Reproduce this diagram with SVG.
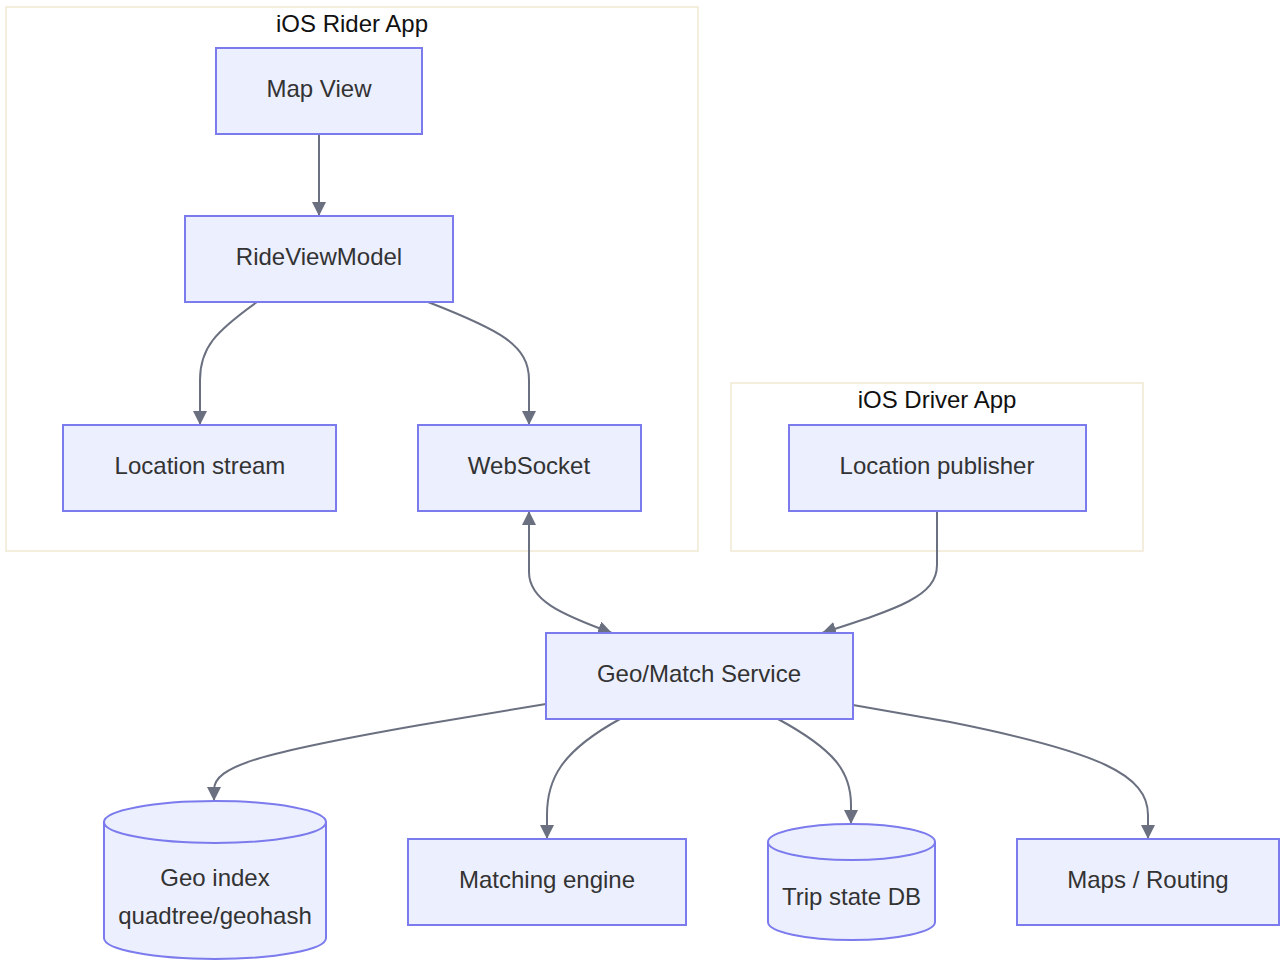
<svg xmlns="http://www.w3.org/2000/svg" width="1280" height="960" viewBox="0 0 1280 960">
<style>
.cluster{fill:#ffffff;stroke:#efe9d2;stroke-width:1.5}
.node{fill:#ECEFFE;stroke:#7B7BEE;stroke-width:2}
.lbl{font-family:"Liberation Sans",Arial,sans-serif;font-size:24px;fill:#333;text-anchor:middle;dominant-baseline:central}
.title{font-family:"Liberation Sans",Arial,sans-serif;font-size:24px;fill:#111;text-anchor:middle;dominant-baseline:central}
.edge{fill:none;stroke:#6b7080;stroke-width:2}
</style>
<defs>
<marker id="arr" viewBox="0 0 10 10" refX="10" refY="5" markerWidth="14" markerHeight="14" markerUnits="userSpaceOnUse" orient="auto-start-reverse">
<path d="M0,0 L10,5 L0,10 z" fill="#6b7080"/>
</marker>
</defs>
<rect width="1280" height="960" fill="#ffffff"/>
<g id="cluster-rider">
<rect class="cluster" x="6" y="7" width="692" height="544"/>
<text class="title" x="352" y="23">iOS Rider App</text>
</g>
<g id="cluster-driver">
<rect class="cluster" x="731" y="383" width="412" height="168"/>
<text class="title" x="937" y="399">iOS Driver App</text>
</g>
<g id="edges">
<path class="edge" d="M319,134 L319,216" marker-end="url(#arr)"/>
<path class="edge" d="M257,302 C215,332 200,348 200,380 L200,425" marker-end="url(#arr)"/>
<path class="edge" d="M428,302 C500,330 529,345 529,380 L529,425" marker-end="url(#arr)"/>
<path class="edge" d="M529,511 L529,572 C529,600 560,614 612,633" marker-start="url(#arr)" marker-end="url(#arr)"/>
<path class="edge" d="M937,511 L937,565 C937,596 900,608 822,633" marker-end="url(#arr)"/>
<path class="edge" d="M546,704 L420,725 C260,753 214,766 214,790 L214,801" marker-end="url(#arr)"/>
<path class="edge" d="M620,719 C560,752 547,780 547,815 L547,839" marker-end="url(#arr)"/>
<path class="edge" d="M778,719 C835,750 851,772 851,805 L851,824" marker-end="url(#arr)"/>
<path class="edge" d="M853,705 L950,722 C1100,752 1148,775 1148,815 L1148,839" marker-end="url(#arr)"/>
</g>
<g id="node-mapview">
<rect class="node" x="216" y="48" width="206" height="86"/>
<text class="lbl" x="319" y="88">Map View</text>
</g>
<g id="node-rideviewmodel">
<rect class="node" x="185" y="216" width="268" height="86"/>
<text class="lbl" x="319" y="256">RideViewModel</text>
</g>
<g id="node-locationstream">
<rect class="node" x="63" y="425" width="273" height="86"/>
<text class="lbl" x="200" y="465">Location stream</text>
</g>
<g id="node-websocket">
<rect class="node" x="418" y="425" width="223" height="86"/>
<text class="lbl" x="529" y="465">WebSocket</text>
</g>
<g id="node-locationpublisher">
<rect class="node" x="789" y="425" width="297" height="86"/>
<text class="lbl" x="937" y="465">Location publisher</text>
</g>
<g id="node-geomatch">
<rect class="node" x="546" y="633" width="307" height="86"/>
<text class="lbl" x="699" y="673">Geo/Match Service</text>
</g>
<g id="node-geoindex">
<path class="node" d="M104,822 A111,21 0 0 1 326,822 L326,938 A111,21 0 0 1 104,938 Z"/>
<path class="node" fill="none" d="M104,822 A111,21 0 0 0 326,822"/>
<text class="lbl" x="215" y="877">Geo index</text>
<text class="lbl" x="215" y="915">quadtree/geohash</text>
</g>
<g id="node-matching">
<rect class="node" x="408" y="839" width="278" height="86"/>
<text class="lbl" x="547" y="879">Matching engine</text>
</g>
<g id="node-tripdb">
<path class="node" d="M768,842 A83.5,18 0 0 1 935,842 L935,922 A83.5,18 0 0 1 768,922 Z"/>
<path class="node" fill="none" d="M768,842 A83.5,18 0 0 0 935,842"/>
<text class="lbl" x="851.5" y="896">Trip state DB</text>
</g>
<g id="node-maps">
<rect class="node" x="1017" y="839" width="262" height="86"/>
<text class="lbl" x="1148" y="879">Maps / Routing</text>
</g>
</svg>
